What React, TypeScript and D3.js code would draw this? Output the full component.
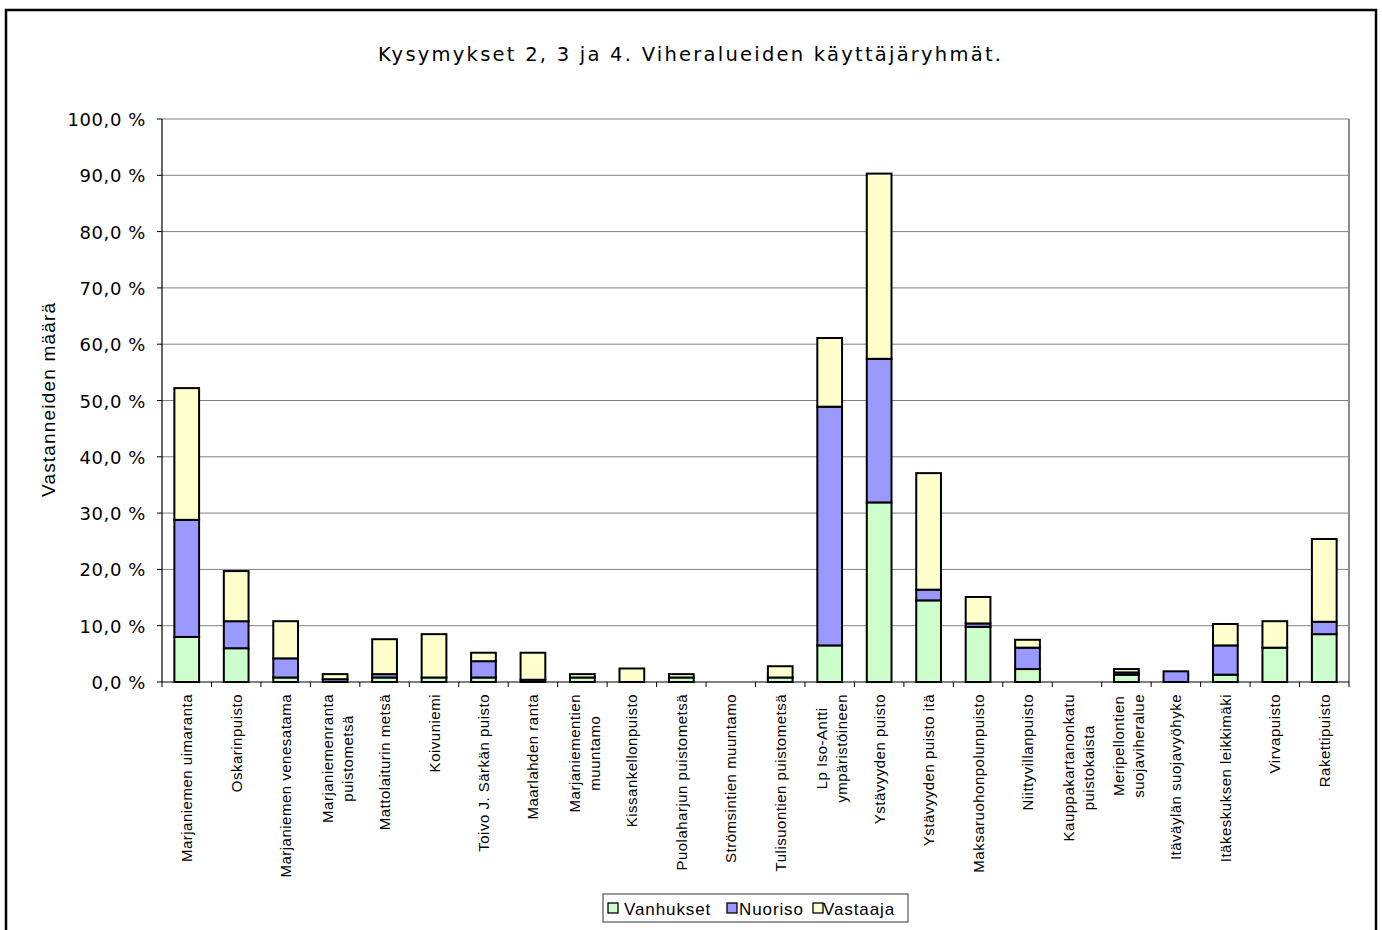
import React, { useEffect, useRef } from "react";
import * as d3 from "d3";

const TITLE = "Kysymykset 2, 3 ja 4. Viheralueiden käyttäjäryhmät.";
const Y_TITLE = "Vastanneiden määrä";

const categories = [
  "Marjaniemen uimaranta",
  "Oskarinpuisto",
  "Marjaniemen venesatama",
  "Marjaniemenranta\npuistometsä",
  "Mattolaiturin metsä",
  "Koivuniemi",
  "Toivo J. Särkän puisto",
  "Maarlahden ranta",
  "Marjaniementien\nmuuntamo",
  "Kissankellonpuisto",
  "Puolaharjun puistometsä",
  "Strömsintien muuntamo",
  "Tulisuontien puistometsä",
  "Lp Iso-Antti\nympäristöineen",
  "Ystävyyden puisto",
  "Ystävyyden puisto itä",
  "Maksaruohonpolunpuisto",
  "Niittyvillanpuisto",
  "Kauppakartanonkatu\npuistokaista",
  "Meripellontien\nsuojaviheralue",
  "Itäväylän suojavyöhyke",
  "Itäkeskuksen leikkimäki",
  "Virvapuisto",
  "Rakettipuisto",
];

const seriesNames = ["Vanhukset", "Nuoriso", "Vastaaja"];
const seriesColors = ["#CCFFCC", "#9999FF", "#FFFFCC"];

const vanhukset = [8.0, 6.0, 0.8, 0.0, 0.8, 0.8, 0.8, 0.4, 0.8, 0.0, 0.8, 0.0, 0.8, 6.5, 31.9, 14.5, 9.8, 2.3, 0.0, 1.3, 0.0, 1.3, 6.1, 8.5];
const nuoriso = [20.8, 4.8, 3.4, 0.5, 0.6, 0.0, 2.9, 0.0, 0.0, 0.0, 0.0, 0.0, 0.0, 42.4, 25.5, 1.9, 0.6, 3.8, 0.0, 0.4, 1.9, 5.2, 0.0, 2.2];
const vastaaja = [23.4, 8.9, 6.6, 0.9, 6.2, 7.7, 1.5, 4.8, 0.6, 2.4, 0.6, 0.0, 2.0, 12.2, 32.9, 20.7, 4.7, 1.4, 0.0, 0.6, 0.0, 3.8, 4.7, 14.7];

const yTicks = [0, 10, 20, 30, 40, 50, 60, 70, 80, 90, 100];

export default function App() {
  const ref = useRef<SVGSVGElement | null>(null);

  useEffect(() => {
    const svg = d3.select(ref.current);
    svg.selectAll("*").remove();

    const W = 1382, H = 930;
    const plot = { left: 162, right: 1349, top: 119, bottom: 682 };

    svg.append("rect").attr("x", 0).attr("y", 0).attr("width", W).attr("height", H).attr("fill", "#fff");
    svg.append("rect")
      .attr("x", 6).attr("y", 10).attr("width", 1370).attr("height", 940)
      .attr("fill", "none").attr("stroke", "#000").attr("stroke-width", 2.5);

    svg.append("text")
      .attr("x", 378).attr("y", 61)
      .attr("font-family", "'DejaVu Sans', Verdana, sans-serif")
      .attr("font-size", 19.5)
      .attr("textLength", 623).attr("lengthAdjust", "spacing")
      .attr("fill", "#000")
      .text(TITLE);

    const x = d3.scaleBand<string>()
      .domain(categories)
      .range([plot.left, plot.right])
      .paddingInner(0.5)
      .paddingOuter(0.25);
    const step = x.step();
    const y = d3.scaleLinear().domain([0, 100]).range([plot.bottom, plot.top]);

    svg.append("g").selectAll("line").data(yTicks.filter(t => t > 0)).join("line")
      .attr("x1", plot.left).attr("x2", plot.right)
      .attr("y1", d => y(d)).attr("y2", d => y(d))
      .attr("stroke", "#808080").attr("stroke-width", 1);

    svg.append("line")
      .attr("x1", plot.right).attr("x2", plot.right)
      .attr("y1", plot.top).attr("y2", plot.bottom)
      .attr("stroke", "#8c8c8c").attr("stroke-width", 2);

    const table = categories.map((c, i) => ({ cat: c, Vanhukset: vanhukset[i], Nuoriso: nuoriso[i], Vastaaja: vastaaja[i] }));
    const stack = d3.stack<any>().keys(seriesNames);
    const layers = stack(table);
    layers.forEach((layer, li) => {
      svg.append("g").selectAll("rect").data(layer.filter(d => d[1] - d[0] > 0)).join("rect")
        .attr("x", d => x(d.data.cat)!)
        .attr("width", x.bandwidth())
        .attr("y", d => y(d[1]))
        .attr("height", d => y(d[0]) - y(d[1]))
        .attr("fill", seriesColors[li])
        .attr("stroke", "#000").attr("stroke-width", 2);
    });

    const yAxis = svg.append("g");
    yAxis.append("line").attr("x1", plot.left).attr("x2", plot.left).attr("y1", plot.top).attr("y2", plot.bottom)
      .attr("stroke", "#000").attr("stroke-width", 1.2);
    yAxis.selectAll("line.tick").data(yTicks).join("line").attr("class", "tick")
      .attr("x1", plot.left - 5).attr("x2", plot.left)
      .attr("y1", d => y(d)).attr("y2", d => y(d))
      .attr("stroke", "#000");
    yAxis.selectAll("text").data(yTicks).join("text")
      .attr("x", 146).attr("y", d => y(d) + 7)
      .attr("text-anchor", "end")
      .attr("font-family", "'DejaVu Sans', Verdana, sans-serif")
      .attr("font-size", 18)
      .attr("letter-spacing", 0.6)
      .attr("fill", "#000")
      .text(d => d.toFixed(1).replace(".", ",") + " %");

    const xAxis = svg.append("g");
    xAxis.append("line").attr("x1", plot.left).attr("x2", plot.right).attr("y1", plot.bottom).attr("y2", plot.bottom)
      .attr("stroke", "#000").attr("stroke-width", 1.2);
    xAxis.selectAll("line.tick").data(d3.range(categories.length + 1)).join("line").attr("class", "tick")
      .attr("x1", i => plot.left + i * step).attr("x2", i => plot.left + i * step)
      .attr("y1", plot.bottom).attr("y2", plot.bottom + 5)
      .attr("stroke", "#000");

    categories.forEach(c => {
      const cx = x(c)! + x.bandwidth() / 2;
      const lines = c.split("\n");
      const g = xAxis.append("g").attr("transform", `translate(${cx},694) rotate(-90)`);
      const font = "'Liberation Sans', Arial, sans-serif";
      if (lines.length === 1) {
        g.append("text").attr("x", 0).attr("y", 5.5)
          .attr("text-anchor", "end")
          .attr("font-family", font).attr("font-size", 15).attr("letter-spacing", 0.5)
          .attr("fill", "#000").text(lines[0]);
      } else {
        const texts = lines.map((l, li) =>
          g.append("text").attr("y", li === 0 ? -2.5 : 17.5)
            .attr("text-anchor", "middle")
            .attr("font-family", font).attr("font-size", 15).attr("letter-spacing", 0.5)
            .attr("fill", "#000").text(l)
        );
        const maxW = d3.max(texts, t => (t.node() as SVGTextElement).getComputedTextLength()) || 0;
        texts.forEach(t => t.attr("x", -maxW / 2));
      }
    });

    svg.append("text")
      .attr("transform", "translate(55,400) rotate(-90)")
      .attr("text-anchor", "middle")
      .attr("font-family", "'Liberation Sans', Arial, sans-serif")
      .attr("font-size", 19)
      .attr("textLength", 194).attr("lengthAdjust", "spacing")
      .attr("fill", "#000")
      .text(Y_TITLE);

    const lg = svg.append("g");
    lg.append("rect").attr("x", 603).attr("y", 894).attr("width", 305).attr("height", 28)
      .attr("fill", "#fff").attr("stroke", "#555").attr("stroke-width", 1.2);
    const markerX = [608, 727, 813];
    const textX = [624, 739, 823];
    seriesNames.forEach((s, i) => {
      lg.append("rect").attr("x", markerX[i]).attr("y", 903).attr("width", 10).attr("height", 10)
        .attr("fill", seriesColors[i]).attr("stroke", "#000").attr("stroke-width", 1.3);
      lg.append("text").attr("x", textX[i]).attr("y", 915)
        .attr("font-family", "'Liberation Sans', Arial, sans-serif")
        .attr("font-size", 17).attr("letter-spacing", 0.9)
        .attr("fill", "#000").text(s);
    });
  }, []);

  return (
    <svg ref={ref} width={1382} height={930}
      style={{ position: "absolute", left: 0, top: 0, display: "block" }} />
  );
}
